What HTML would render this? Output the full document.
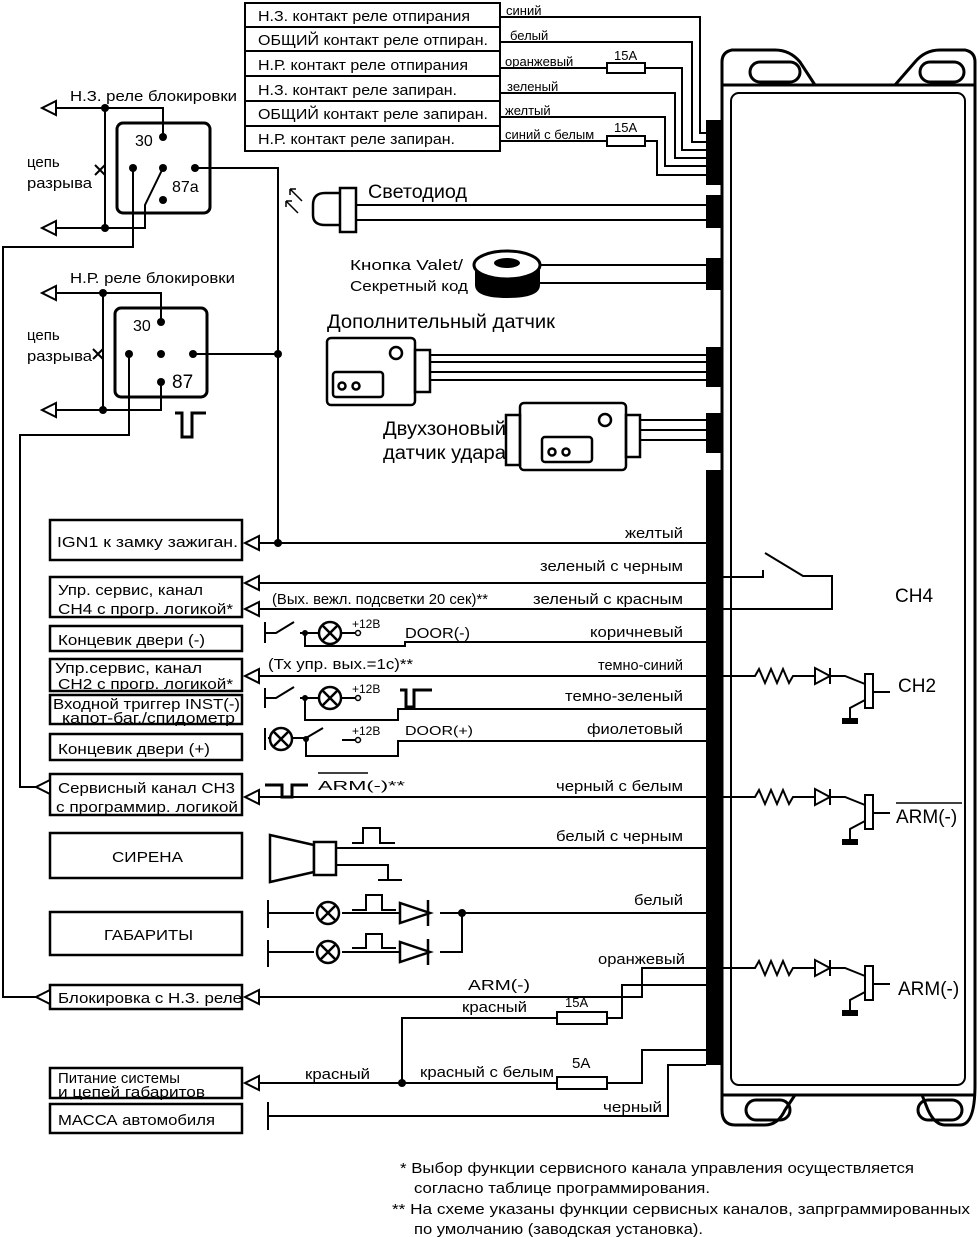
<!DOCTYPE html>
<html><head><meta charset="utf-8"><style>
html,body{margin:0;padding:0;background:#fff}
svg{display:block}
text{font-family:"Liberation Sans",sans-serif;fill:#000}
.s{font-size:15px}.m{font-size:15px}.b{font-size:19px}
</style></head><body>
<svg width="980" height="1237" viewBox="0 0 980 1237" xmlns="http://www.w3.org/2000/svg">
<defs>
<g id="tr" fill="none" stroke="#000" stroke-width="2">
<path d="M722 0 H755 l4 -7 l6 14 l6 -14 l6 14 l6 -14 l6 14 l4 -7 H815"/>
<polygon points="815,-8 815,8 830,0" fill="#fff"/>
<path d="M830 -8 V8 M830 0 H845 L865 8 M873 16 H890 M865 24 L850 32 V44"/>
<rect x="865" y="-2" width="8" height="34" fill="#fff"/>
<rect x="842" y="42" width="16" height="6" fill="#000" stroke="none"/>
</g>
<g id="lamp" fill="none" stroke="#000" stroke-width="2.5">
<circle cx="0" cy="0" r="11" fill="#fff"/><path d="M-8 -8 L8 8 M8 -8 L-8 8"/>
</g>
<path id="arr" d="M0 0 L14 -7 V7 Z" fill="#fff" stroke="#000" stroke-width="2"/>
</defs>

<!-- module -->
<g fill="none" stroke="#000" stroke-width="3">
<path d="M722 95 V62 Q722 52 732 50 L775 50 Q790 50 800 62 L815 85 M895 85 L915 62 Q925 50 940 50 L965 50 Q975 52 975 62 V1085 Q975 1125 960 1125 H945 Q935 1125 928 1110 L922 1095 M795 1095 L785 1110 Q778 1125 765 1125 H735 Q722 1125 722 1110 V95"/>
<path d="M722 85 H975 M722 1095 H975"/>
<rect x="731" y="93" width="234" height="992" rx="8" stroke-width="2"/>
<rect x="750" y="62" width="50" height="20" rx="10"/>
<rect x="920" y="62" width="44" height="20" rx="10"/>
<rect x="746" y="1100" width="44" height="20" rx="10"/>
<rect x="918" y="1100" width="44" height="20" rx="10"/>
</g>
<g fill="#000">
<rect x="706" y="120" width="16" height="65"/>
<rect x="706" y="195" width="16" height="33"/>
<rect x="706" y="258" width="16" height="32"/>
<rect x="706" y="347" width="16" height="40"/>
<rect x="706" y="413" width="16" height="40"/>
<rect x="706" y="470" width="16" height="595"/>
</g>

<!-- top table -->
<g fill="none" stroke="#000" stroke-width="2">
<rect x="245" y="3" width="255" height="148"/>
<path d="M245 27 H500 M245 51 H500 M245 76 H500 M245 101 H500 M245 126 H500"/>
<path d="M500 17 H700 V133 H712 M500 42 H692 V142 H712 M500 68 H607 M645 68 H682 V150 H712 M500 93 H675 V158 H712 M500 117 H665 V166 H712 M500 141 H607 M645 141 H657 V175 H712"/>
<rect x="607" y="63" width="38" height="10"/><rect x="607" y="136" width="38" height="10"/>
</g>
<g class="s" lengthAdjust="spacingAndGlyphs">
<text x="258" y="21" textLength="212" lengthAdjust="spacingAndGlyphs">Н.З. контакт реле отпирания</text>
<text x="258" y="45" textLength="230" lengthAdjust="spacingAndGlyphs">ОБЩИЙ контакт реле отпиран.</text>
<text x="258" y="70" textLength="210" lengthAdjust="spacingAndGlyphs">Н.Р. контакт реле отпирания</text>
<text x="258" y="95" textLength="199" lengthAdjust="spacingAndGlyphs">Н.З. контакт реле запиран.</text>
<text x="258" y="119" textLength="230" lengthAdjust="spacingAndGlyphs">ОБЩИЙ контакт реле запиран.</text>
<text x="258" y="144" textLength="197" lengthAdjust="spacingAndGlyphs">Н.Р. контакт реле запиран.</text>
</g>
<g style="font-size:13px">
<text x="506" y="15">синий</text><text x="510" y="40">белый</text>
<text x="505" y="66">оранжевый</text><text x="507" y="91">зеленый</text>
<text x="505" y="115">желтый</text><text x="505" y="139">синий с белым</text>
<text x="614" y="60">15A</text><text x="614" y="132">15A</text>
</g>

<!-- relay 1 -->
<g fill="none" stroke="#000" stroke-width="2">
<rect x="117" y="123" width="93" height="90" rx="6" stroke-width="3"/>
<path d="M56 108 H163 V137 M105 108 V228 M56 228 H145 V205 L163 168 M133 168 V247 H3 V997 H50 M195 168 H278 V543"/>
<path d="M95 165 L105 175 M105 165 L95 175"/>
<rect x="115" y="308" width="92" height="89" rx="6" stroke-width="3"/>
<path d="M56 293 H161 V322 M103 293 V410 M56 410 H161 V382 M129 354 V435 H20 V787 H36 M193 354 H278"/>
<path d="M93 349 L103 359 M103 349 L93 359"/>
<path d="M175 413 H182 V437 H192 V413 H206" stroke-width="3"/>
</g>
<use href="#arr" x="42" y="108"/><use href="#arr" x="42" y="228"/>
<use href="#arr" x="42" y="293"/><use href="#arr" x="42" y="410"/>
<g fill="#000">
<circle cx="105" cy="108" r="4"/><circle cx="105" cy="228" r="4"/>
<circle cx="163" cy="137" r="4"/><circle cx="133" cy="168" r="4"/><circle cx="163" cy="168" r="4"/><circle cx="195" cy="168" r="4"/><circle cx="163" cy="200" r="4"/>
<circle cx="103" cy="293" r="4"/><circle cx="103" cy="410" r="4"/>
<circle cx="161" cy="322" r="4"/><circle cx="129" cy="354" r="4"/><circle cx="161" cy="354" r="4"/><circle cx="193" cy="354" r="4"/><circle cx="161" cy="382" r="4"/>
<circle cx="278" cy="354" r="4"/><circle cx="278" cy="543" r="4"/>
</g>
<g class="m">
<text x="70" y="101" textLength="167" lengthAdjust="spacingAndGlyphs">Н.З. реле блокировки</text>
<text x="70" y="283" textLength="165" lengthAdjust="spacingAndGlyphs">Н.Р. реле блокировки</text>
<text x="27" y="167">цепь</text><text x="27" y="188" textLength="65" lengthAdjust="spacingAndGlyphs">разрыва</text>
<text x="27" y="340">цепь</text><text x="27" y="361" textLength="65" lengthAdjust="spacingAndGlyphs">разрыва</text>
<text x="135" y="146" style="font-size:16px">30</text><text x="172" y="192" style="font-size:16px">87a</text>
<text x="133" y="331" style="font-size:16px">30</text><text x="172" y="388" style="font-size:19px">87</text>
</g>

<!-- LED -->
<g fill="none" stroke="#000" stroke-width="2.5">
<path d="M340 193 H325 Q313 193 313 205 V215 Q313 225 325 225 H340"/>
<rect x="340" y="188" width="16" height="44" fill="#fff"/>
<path d="M302 201 L290 189 M290 189 V195 M290 189 H296 M298 213 L286 201 M286 201 V207 M286 201 H292" stroke-width="1.5"/>
<path d="M356 205 H706 M356 220 H706" stroke-width="2"/>
<path d="M540 265 H706 M540 283 H706" stroke-width="2"/>
<path d="M430 355 H706 M430 362 H706 M430 372 H706 M430 380 H706" stroke-width="2"/>
<path d="M640 420 H706 M640 430 H706 M640 440 H706" stroke-width="2"/>
</g>
<text x="368" y="198" class="b" textLength="99" lengthAdjust="spacingAndGlyphs">Светодиод</text>
<text x="350" y="270" class="s" textLength="113" lengthAdjust="spacingAndGlyphs">Кнопка  Valet/</text>
<text x="350" y="291" class="s" textLength="118" lengthAdjust="spacingAndGlyphs">Секретный  код</text>
<!-- valet donut -->
<path d="M475 265 V285 Q475 298 507 298 Q540 298 540 285 V265 Z" fill="#000"/>
<ellipse cx="507" cy="265" rx="33" ry="14" fill="#fff" stroke="#000" stroke-width="3"/>
<ellipse cx="507" cy="263" rx="13" ry="5" fill="#000"/>
<text x="327" y="328" class="b" textLength="228" lengthAdjust="spacingAndGlyphs">Дополнительный датчик</text>
<g fill="none" stroke="#000" stroke-width="2.5">
<rect x="327" y="338" width="88" height="67" rx="4"/>
<rect x="415" y="350" width="15" height="42"/>
<rect x="333" y="372" width="50" height="25" rx="3"/>
<circle cx="342" cy="386" r="3.5"/><circle cx="356" cy="386" r="3.5"/>
<circle cx="396" cy="353" r="6"/>
<rect x="520" y="403" width="106" height="67" rx="4"/>
<rect x="506" y="415" width="14" height="50"/><rect x="626" y="415" width="14" height="42"/>
<rect x="542" y="437" width="50" height="25" rx="3"/>
<circle cx="552" cy="452" r="3.5"/><circle cx="566" cy="452" r="3.5"/>
<circle cx="605" cy="420" r="6"/>
</g>
<text x="383" y="435" class="b" textLength="123" lengthAdjust="spacingAndGlyphs">Двухзоновый</text>
<text x="383" y="459" class="b" textLength="123" lengthAdjust="spacingAndGlyphs">датчик удара</text>

<!-- left boxes -->
<g fill="#fff" stroke="#000" stroke-width="2.5">
<rect x="50" y="520" width="192" height="40"/>
<rect x="50" y="577" width="192" height="40"/>
<rect x="50" y="626" width="192" height="25"/>
<rect x="50" y="659" width="192" height="32"/>
<rect x="50" y="695" width="192" height="29"/>
<rect x="50" y="734" width="192" height="26"/>
<rect x="50" y="774" width="192" height="41"/>
<rect x="50" y="833" width="192" height="45"/>
<rect x="50" y="912" width="192" height="43"/>
<rect x="50" y="985" width="192" height="24"/>
<rect x="50" y="1068" width="192" height="30"/>
<rect x="50" y="1104" width="192" height="29"/>
</g>
<g class="s">
<text x="57" y="547" textLength="181" lengthAdjust="spacingAndGlyphs">IGN1  к замку зажиган.</text>
<text x="58" y="595" textLength="145" lengthAdjust="spacingAndGlyphs">Упр. сервис, канал</text>
<text x="58" y="614" textLength="175" lengthAdjust="spacingAndGlyphs">СН4  с прогр. логикой*</text>
<text x="58" y="645" textLength="147" lengthAdjust="spacingAndGlyphs">Концевик двери (-)</text>
<text x="55" y="673" textLength="147" lengthAdjust="spacingAndGlyphs">Упр.сервис, канал</text>
<text x="58" y="689" textLength="175" lengthAdjust="spacingAndGlyphs">СН2  с прогр. логикой*</text>
<text x="53" y="709" textLength="187" lengthAdjust="spacingAndGlyphs">Входной триггер INST(-)</text>
<text x="62" y="723" textLength="173" lengthAdjust="spacingAndGlyphs">капот-баг./спидометр</text>
<text x="58" y="754" textLength="152" lengthAdjust="spacingAndGlyphs">Концевик двери (+)</text>
<text x="58" y="793" textLength="177" lengthAdjust="spacingAndGlyphs">Сервисный  канал  СН3</text>
<text x="56" y="812" textLength="182" lengthAdjust="spacingAndGlyphs">с программир. логикой</text>
<text x="112" y="862" textLength="71" lengthAdjust="spacingAndGlyphs">СИРЕНА</text>
<text x="104" y="940" textLength="89" lengthAdjust="spacingAndGlyphs">ГАБАРИТЫ</text>
<text x="58" y="1003" textLength="184" lengthAdjust="spacingAndGlyphs">Блокировка с Н.З. реле</text>
<text x="58" y="1083" textLength="122" lengthAdjust="spacingAndGlyphs">Питание системы</text>
<text x="58" y="1097" textLength="147" lengthAdjust="spacingAndGlyphs">и цепей габаритов</text>
<text x="58" y="1125" textLength="157" lengthAdjust="spacingAndGlyphs">МАССА  автомобиля</text>
</g>
<use href="#arr" x="245" y="543"/><use href="#arr" x="245" y="583"/><use href="#arr" x="245" y="609"/>
<use href="#arr" x="245" y="676"/><use href="#arr" x="245" y="797"/><use href="#arr" x="245" y="997"/>
<use href="#arr" x="245" y="1083"/>
<use href="#arr" x="36" y="787"/><use href="#arr" x="36" y="997"/>

<!-- wires to module -->
<g fill="none" stroke="#000" stroke-width="2">
<path d="M259 543 H706 M259 583 H706 M259 609 H706 M259 676 H706 M259 797 H706"/>
<path d="M265 622 V643 M265 633 H276 L294 622 M300 633 H319 M305 633 V646 H405 V642 H706 M341 633 H355"/>
<path d="M265 688 V708 M265 698 H276 L294 687 M300 698 H319 M305 698 V720 H398 V709 H706 M341 698 H355"/>
<path d="M400 690 H406 V707 H414 V690 H432" stroke-width="3"/>
<path d="M265 728 V750 M268 738 H306 L323 728 M342 740 H355 M306 738 V756 H398 V741 H706"/>
<path d="M265 785 H282 V797 H292 V785 H308" stroke-width="3"/>
<path d="M318 773 H368" stroke-width="1.5"/>
<path d="M336 848 H706 M336 865 H388 V880 M378 880 H402"/>
<path d="M352 843 H363 V828 H380 V843 H395"/>
<path d="M268 900 V928 M268 913 H314 M342 913 H400 M440 913 H706 M268 940 V967 M268 952 H314 M342 952 H400 M440 952 H462 V913"/>
<path d="M352 910 H366 V895 H382 V910 H396 M352 948 H366 V934 H382 V948 H396"/>
<path d="M259 997 H642 V968 H706 M402 1083 V1018 H557 M607 1018 H622 V985 H706 M259 1083 H557 M607 1083 H642 V1050 H706 M268 1102 V1130 M268 1116 H668 V1065 H706"/>
<rect x="557" y="1012" width="50" height="12"/><rect x="557" y="1077" width="50" height="12"/>
<path d="M722 577 H763 V570 M765 553 L803 576 H832 V609 H722"/>
</g>
<g fill="none" stroke="#000" stroke-width="2.5">
<polygon points="400,903 400,923 430,913" fill="#fff"/><path d="M428 900 V926"/>
<polygon points="400,942 400,962 430,952" fill="#fff"/><path d="M428 939 V965"/>
<path d="M270 835 L314 845 V872 L270 882 Z" fill="#fff"/>
<rect x="314" y="842" width="22" height="33" fill="#fff"/>
</g>
<use href="#lamp" x="330" y="633"/><use href="#lamp" x="330" y="698"/>
<use href="#lamp" x="281" y="739"/>
<use href="#lamp" x="328" y="913"/><use href="#lamp" x="328" y="952"/>
<g fill="#fff" stroke="#000" stroke-width="1.5">
<circle cx="358" cy="633" r="2.5"/><circle cx="358" cy="698" r="2.5"/><circle cx="358" cy="740" r="2.5"/>
</g>
<g fill="#000">
<circle cx="305" cy="633" r="3"/><circle cx="305" cy="698" r="3"/><circle cx="306" cy="739" r="3"/>
<circle cx="462" cy="913" r="4"/><circle cx="402" cy="1083" r="4"/>
</g>
<g style="font-size:12px"><text x="352" y="628">+12В</text><text x="352" y="693">+12В</text><text x="352" y="735">+12В</text></g>
<g class="s">
<text x="405" y="638" textLength="65" lengthAdjust="spacingAndGlyphs">DOOR(-)</text>
<text x="405" y="735" style="font-size:13px" textLength="68" lengthAdjust="spacingAndGlyphs">DOOR(+)</text>
<text x="318" y="790" style="font-size:13px" textLength="87" lengthAdjust="spacingAndGlyphs">ARM(-)**</text>
<text x="272" y="604" textLength="216" lengthAdjust="spacingAndGlyphs">(Вых. вежл. подсветки 20 сек)**</text>
<text x="268" y="669" textLength="145" lengthAdjust="spacingAndGlyphs">(Тх упр. вых.=1с)**</text>
<text x="625" y="538" textLength="58" lengthAdjust="spacingAndGlyphs">желтый</text>
<text x="540" y="571" textLength="143" lengthAdjust="spacingAndGlyphs">зеленый с черным</text>
<text x="533" y="604" textLength="150" lengthAdjust="spacingAndGlyphs">зеленый с красным</text>
<text x="590" y="637" textLength="93" lengthAdjust="spacingAndGlyphs">коричневый</text>
<text x="598" y="670" textLength="85" lengthAdjust="spacingAndGlyphs">темно-синий</text>
<text x="565" y="701" textLength="118" lengthAdjust="spacingAndGlyphs">темно-зеленый</text>
<text x="587" y="734" textLength="96" lengthAdjust="spacingAndGlyphs">фиолетовый</text>
<text x="556" y="791" textLength="127" lengthAdjust="spacingAndGlyphs">черный с белым</text>
<text x="556" y="841" textLength="127" lengthAdjust="spacingAndGlyphs">белый с черным</text>
<text x="634" y="905" textLength="49" lengthAdjust="spacingAndGlyphs">белый</text>
<text x="598" y="964" textLength="87" lengthAdjust="spacingAndGlyphs">оранжевый</text>
<text x="468" y="990" textLength="62" lengthAdjust="spacingAndGlyphs">ARM(-)</text>
<text x="462" y="1012" textLength="65" lengthAdjust="spacingAndGlyphs">красный</text>
<text x="565" y="1007" style="font-size:13px">15A</text>
<text x="305" y="1079" textLength="65" lengthAdjust="spacingAndGlyphs">красный</text>
<text x="420" y="1077" textLength="134" lengthAdjust="spacingAndGlyphs">красный с белым</text>
<text x="572" y="1068">5A</text>
<text x="603" y="1112" textLength="59" lengthAdjust="spacingAndGlyphs">черный</text>
</g>

<!-- inside module -->
<use href="#tr" y="676"/><use href="#tr" y="797"/><use href="#tr" y="968"/>
<g class="b">
<text x="895" y="602">CH4</text>
<text x="898" y="692">CH2</text>
<text x="896" y="823">ARM(-)</text>
<text x="898" y="995">ARM(-)</text>
</g>
<path d="M896 803 H962" stroke="#000" stroke-width="1.5"/>

<!-- footnotes -->
<g class="s">
<text x="400" y="1173" textLength="514" lengthAdjust="spacingAndGlyphs">*  Выбор функции сервисного канала управления осуществляется</text>
<text x="414" y="1193" textLength="296" lengthAdjust="spacingAndGlyphs">согласно таблице программирования.</text>
<text x="392" y="1214" textLength="578" lengthAdjust="spacingAndGlyphs">**   На схеме указаны функции сервисных каналов, запрграммированных</text>
<text x="414" y="1234" textLength="289" lengthAdjust="spacingAndGlyphs">по умолчанию (заводская установка).</text>
</g>
</svg>
</body></html>
